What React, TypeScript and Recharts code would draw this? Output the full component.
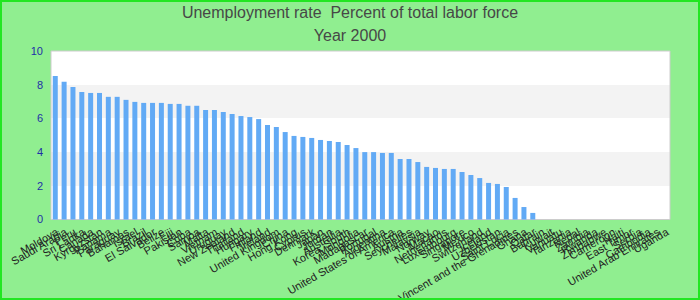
import React from "react";
import {
  BarChart,
  Bar,
  XAxis,
  YAxis,
  CartesianGrid,
  ReferenceArea,
} from "recharts";

const countries = [
  "Moldova", "Saudi Arabia", "Peru", "Sri Lanka", "Canada", "Kyrgyzstan",
  "Panama", "Paraguay", "Bahamas", "Israel", "Brazil", "El Salvador",
  "Belize", "Fiji", "Pakistan", "Cuba", "Samoa", "Malta", "Vietnam",
  "Uruguay", "New Zealand", "Thailand", "Hungary", "Finland", "Ireland",
  "United Kingdom", "China", "Hong Kong", "Cyprus", "Denmark", "Japan",
  "Jordan", "Australia", "Korea, South", "Mongolia", "Madagascar",
  "Portugal", "Argentina", "United States of America", "Austria",
  "Seychelles", "Malaysia", "Norway", "Macao", "Netherlands", "Luxembourg",
  "Singapore", "Mexico", "Switzerland", "Iceland", "Uzbekistan",
  "Saint Lucia", "Saint Vincent and the Grenadines", "Ghana", "Qatar",
  "Bahrain", "Kuwait", "Vanuatu", "Tanzania", "Nepal", "Zambia", "Rwanda",
  "Zimbabwe", "Cameroon", "Haiti", "East Timor", "Serbia", "Cambodia",
  "United Arab Emirates", "Uganda",
];

const rates: (number | null)[] = [
  8.52, 8.17, 7.87, 7.57, 7.51, 7.51, 7.28, 7.28, 7.1, 6.98, 6.92, 6.92,
  6.92, 6.86, 6.86, 6.75, 6.75, 6.5, 6.5, 6.38, 6.26, 6.14, 6.08, 5.96,
  5.61, 5.49, 5.19, 4.96, 4.9, 4.84, 4.72, 4.66, 4.6, 4.42, 4.24, 4.0,
  4.0, 3.95, 3.95, 3.59, 3.59, 3.41, 3.12, 3.06, 3.0, 3.0, 2.82, 2.64,
  2.46, 2.17, 2.11, 1.93, 1.28, 0.74, 0.39,
  null, null, null, null, null, null, null, null, null, null, null, null,
  null, null, null,
];

const yTicks = [0, 2, 4, 6, 8, 10];

const data = countries.map((name, i) => ({ name, rate: rates[i] }));

const font = "'Liberation Sans', Arial, sans-serif";

export default function App() {
  return (
    <div
      style={{
        position: "fixed",
        left: 0,
        top: 0,
        width: 700,
        height: 300,
        background: "#90ee90",
        fontFamily: font,
      }}
    >
      <div
        style={{
          position: "absolute",
          top: 3,
          width: 700,
          textAlign: "center",
          fontSize: 16,
          color: "#474747",
          lineHeight: "20px",
        }}
      >
        Unemployment rate&nbsp; Percent of total labor force
      </div>
      <div
        style={{
          position: "absolute",
          top: 26,
          width: 700,
          textAlign: "center",
          fontSize: 16,
          color: "#474747",
          lineHeight: "20px",
        }}
      >
        Year 2000
      </div>
      <BarChart
        width={700}
        height={300}
        data={data}
        margin={{ top: 51, right: 30, left: 0, bottom: 0 }}
        barCategoryGap="20%"
        style={{ position: "absolute", left: 0, top: 0 }}
      >
        <CartesianGrid
          vertical={false}
          stroke="transparent"
          horizontalFill={["#ffffff", "#f3f3f3"]}
          fillOpacity={1}
        />
        <XAxis
          dataKey="name"
          interval={0}
          angle={-30}
          textAnchor="end"
          height={80.5}
          axisLine={false}
          tickLine={false}
          tick={{ fontSize: 11, fill: "#222", fontFamily: font }}
        />
        <YAxis
          width={51}
          domain={[0, 10]}
          ticks={yTicks}
          axisLine={false}
          tickLine={false}
          tick={{ fontSize: 11, fill: "#1f2fa8", fontFamily: font }}
        />
        <Bar dataKey="rate" fill="#62aaf5" isAnimationActive={false} />
        <ReferenceArea
          x1="Moldova"
          x2="Uganda"
          y1={0}
          y2={10}
          fill="none"
          stroke="#cccccc"
          ifOverflow="extendDomain"
        />
      </BarChart>
      <div
        style={{
          position: "absolute",
          inset: 0,
          border: "2px solid #22e622",
          pointerEvents: "none",
        }}
      />
    </div>
  );
}
